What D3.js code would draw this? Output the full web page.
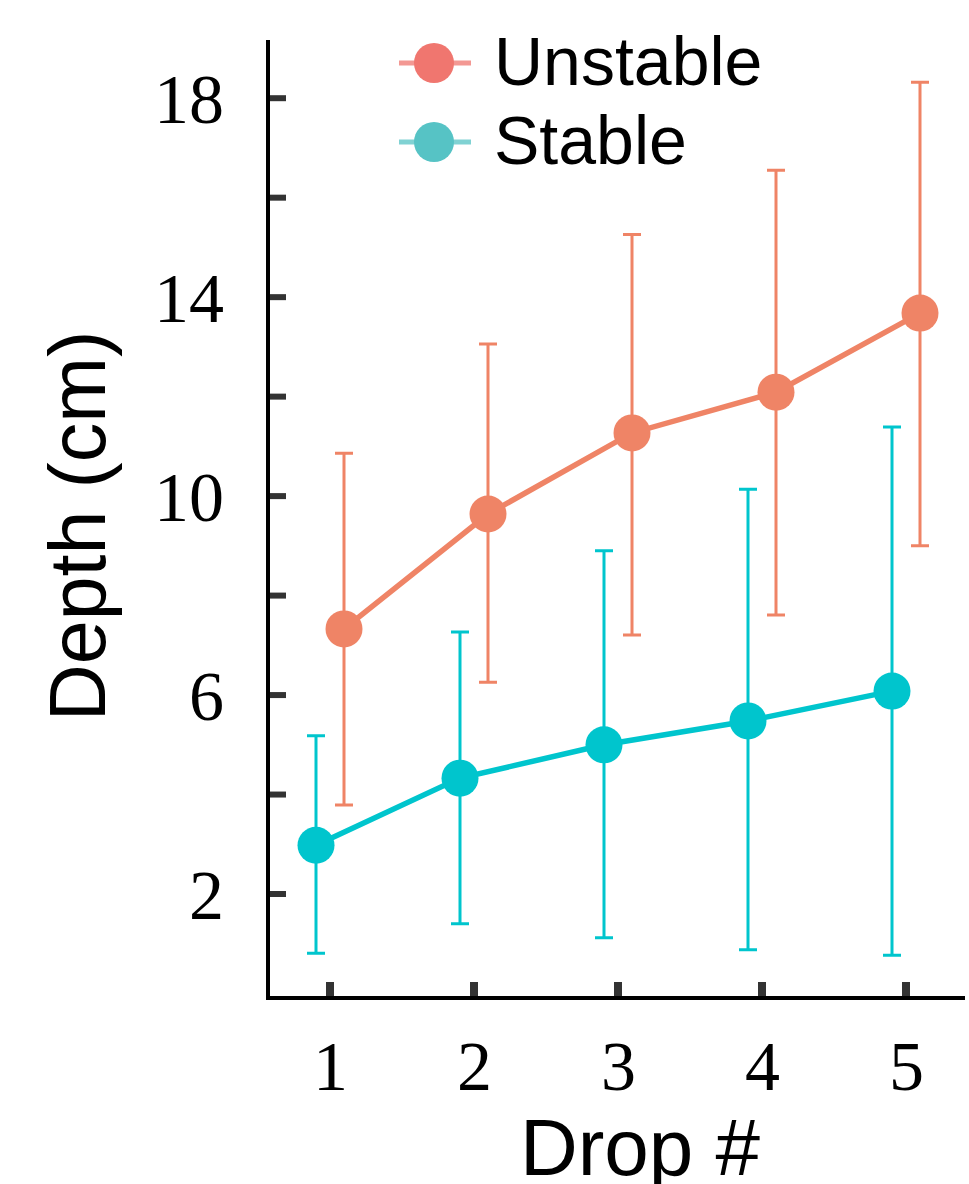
<!DOCTYPE html>
<html>
<head>
<meta charset="utf-8">
<script src="https://cdn.jsdelivr.net/npm/d3@7"></script>
<style>
  body { margin: 0; background: #fff; }
</style>
</head>
<body>
<div id="wrapper"></div>
<script>
// data
var drops = [1, 2, 3, 4, 5];
var unstableMean = [7.33, 9.64, 11.27, 12.09, 13.68];
var unstableHi = [10.86, 13.06, 15.26, 16.55, 18.32];
var unstableLo = [3.79, 6.26, 7.21, 7.61, 9.0];
var stableMean = [2.98, 4.33, 5.0, 5.48, 6.08];
var stableHi = [5.18, 7.27, 8.9, 10.14, 11.39];
var stableLo = [0.81, 1.40, 1.12, 0.88, 0.77];
var yTicks = [2, 6, 10, 14, 18];
var yMinor = [4, 8, 12, 16];
var seriesNames = ["Unstable", "Stable"];

var width = 969, height = 1184;
var colUnstable = "#ef8466", colStable = "#00c5cd";

var series = [
  { name: seriesNames[0], color: colUnstable, legendColor: "#f0766f", dodge: 14,
    rows: drops.map((d, i) => ({ x: d, m: unstableMean[i], hi: unstableHi[i], lo: unstableLo[i] })) },
  { name: seriesNames[1], color: colStable, legendColor: "#56c3c5", dodge: -14,
    rows: drops.map((d, i) => ({ x: d, m: stableMean[i], hi: stableHi[i], lo: stableLo[i] })) }
];

var x = d3.scaleLinear().domain([1, 5]).range([330, 906]);
var y = d3.scaleLinear().domain([0, 19.17]).range([993.5, 40]);

const svg = d3.select('#wrapper').append('svg')
  .attr('width', width)
  .attr('height', height)
  .style('display', 'block');

// axes
var xAxis = d3.axisBottom(x).tickValues(drops).tickSize(0).tickFormat(d3.format("d"));
var yAxis = d3.axisLeft(y).tickValues(yTicks).tickSize(0).tickFormat(d3.format("d"));

const gx = svg.append("g").attr("transform", "translate(0,998)").call(xAxis);
gx.select(".domain").remove();
gx.selectAll("text")
  .attr("y", 92).attr("dy", 0)
  .style("font-family", "'Liberation Serif', 'Times New Roman', serif")
  .style("font-size", "70px").attr("fill", "#000");

const gy = svg.append("g").attr("transform", "translate(268,0)").call(yAxis);
gy.select(".domain").remove();
gy.selectAll("text")
  .attr("x", -44).attr("dy", "0.35em")
  .style("font-family", "'Liberation Serif', 'Times New Roman', serif")
  .style("font-size", "70px").attr("fill", "#000");

// tick marks (inside)
svg.append("g").selectAll("line")
  .data(yTicks.concat(yMinor))
  .join("line")
  .attr("x1", 268).attr("x2", 286)
  .attr("y1", d => y(d)).attr("y2", d => y(d))
  .attr("stroke", "#333").attr("stroke-width", 6);
svg.append("g").selectAll("line")
  .data(drops)
  .join("line")
  .attr("x1", d => x(d)).attr("x2", d => x(d))
  .attr("y1", 982).attr("y2", 998)
  .attr("stroke", "#333").attr("stroke-width", 8);

// axis lines
svg.append("path")
  .attr("d", "M268,40V998H965")
  .attr("fill", "none").attr("stroke", "#000").attr("stroke-width", 4);

// series
var line = d3.line().x(d => d.px).y(d => y(d.m));
series.forEach(s => {
  s.rows.forEach(r => r.px = x(r.x) + s.dodge);
  const g = svg.append("g");
  g.selectAll(".eb").data(s.rows).join("path")
    .attr("d", r => `M${r.px - 9},${y(r.hi)}H${r.px + 9}M${r.px},${y(r.hi)}V${y(r.lo)}M${r.px - 9},${y(r.lo)}H${r.px + 9}`)
    .attr("fill", "none").attr("stroke", s.color).attr("stroke-width", 3);
  g.append("path").datum(s.rows)
    .attr("d", line)
    .attr("fill", "none").attr("stroke", s.color).attr("stroke-width", 5.5);
  g.selectAll("circle").data(s.rows).join("circle")
    .attr("cx", r => r.px).attr("cy", r => y(r.m))
    .attr("r", 18.5).attr("fill", s.color);
});

// legend
const leg = svg.append("g").selectAll("g").data(series).join("g")
  .attr("transform", (d, i) => `translate(0,${63 + i * 79})`);
leg.append("line")
  .attr("x1", 399).attr("x2", 471).attr("y1", 0).attr("y2", 0)
  .attr("stroke", d => d.legendColor).attr("stroke-width", 5).attr("opacity", 0.75);
leg.append("circle")
  .attr("cx", 434).attr("cy", 0).attr("r", 20)
  .attr("fill", d => d.legendColor);
leg.append("text")
  .attr("x", 494).attr("y", 22)
  .style("font-family", "'Liberation Sans', Arial, sans-serif")
  .style("font-size", "68px")
  .text(d => d.name);

// axis titles
svg.append("text")
  .attr("text-anchor", "middle")
  .attr("transform", "translate(105,526) rotate(-90)")
  .style("font-family", "'Liberation Sans', Arial, sans-serif")
  .style("font-size", "79px")
  .text("Depth (cm)");
svg.append("text")
  .attr("text-anchor", "middle")
  .attr("x", 640).attr("y", 1175)
  .style("font-family", "'Liberation Sans', Arial, sans-serif")
  .style("font-size", "80px")
  .text("Drop #");
</script>
</body>
</html>
